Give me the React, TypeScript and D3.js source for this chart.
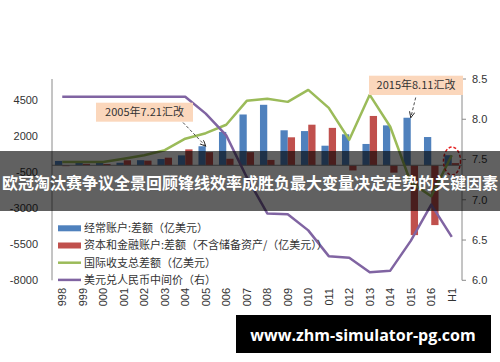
import { line, scaleBand, scaleLinear } from "d3";

const categories = [
  "1998", "1999", "2000", "2001", "2002", "2003", "2004", "2005", "2006", "2007",
  "2008", "2009", "2010", "2011", "2012", "2013", "2014", "2015", "2016", "2017H1"
];
// labels as they appear (cut off at the bottom edge of the original)
const tickLabels = [
  "998", "999", "000", "001", "002", "003", "004", "005", "006", "007",
  "008", "009", "010", "011", "012", "013", "014", "015", "016", "H1"
];
const currentAccount = [
  300, 200, 190, 174, 354, 431, 689, 1324, 2318, 3532,
  4206, 2433, 2378, 1361, 2154, 1482, 2774, 3306, 1964, 700
];
const capitalAccount = [
  -63, 100, 90, 348, 323, 527, 1107, 912, 453, 911,
  371, 1945, 2822, 2600, -360, 3430, -514, -4856, -4161, 150
];
const overallBalance = [
  230, 220, 230, 460, 700, 1050, 1850, 2230, 2820, 4480,
  4620, 4410, 5240, 3990, 1775, 4900, 2680, -1200, -2150, 700
];
const usdCny = [
  8.28, 8.28, 8.28, 8.28, 8.28, 8.28, 8.28, 8.07, 7.8, 7.28,
  6.83, 6.82, 6.62, 6.3, 6.28, 6.1, 6.12, 6.49, 6.94, 6.54
];
const leftTicks = [-8000, -5500, -3000, -500, 2000, 4500];
const rightTicks = [6.0, 6.5, 7.0, 7.5, 8.0, 8.5];
const legendLabels = [
  "经常账户:差额（亿美元）",
  "资本和金融账户:差额（不含储备资产/（亿美元））",
  "国际收支总差额（亿美元）",
  "美元兑人民币中间价（右）"
];
const title = "欧冠淘汰赛争议全景回顾锋线效率成胜负最大变量决定走势的关键因素";
const watermark = "www.zhm-simulator-pg.com";

const BLUE = "#4F81BD";
const RED = "#C0504D";
const GREEN = "#9BBB59";
const PURPLE = "#8064A2";
const AXIS = "#8a8a8a";
const TEXT = "#333";
const FONT = "'Liberation Sans', 'Noto Sans CJK SC', sans-serif";
const CJK = "'Noto Sans CJK SC', 'Liberation Sans', sans-serif";

export default function App() {
  const width = 500;
  const height = 362;
  const left = 52, right = 462, top = 79, bottom = 280.3;

  const x = scaleBand().domain(categories).range([left, right]).paddingInner(0.29).paddingOuter(0.145);
  const xs = scaleBand().domain(["ca", "ka"]).range([0, x.bandwidth()]);
  const yL = scaleLinear().domain([-8000, 6000]).range([bottom, top]);
  const yR = scaleLinear().domain([6, 8.5]).range([bottom, top]);
  const cx = (i: number) => (x(categories[i]) ?? 0) + x.bandwidth() / 2;

  const greenPath = line<number>().x((_, i) => cx(i)).y((d) => yL(d))(overallBalance) ?? "";
  const purplePath = line<number>().x((_, i) => cx(i)).y((d) => yR(d))(usdCny) ?? "";

  const bar = (v: number, i: number, key: "ca" | "ka", fill: string) => (
    <rect
      key={`${key}-${i}`}
      x={(x(categories[i]) ?? 0) + (xs(key) ?? 0)}
      y={Math.min(yL(v), yL(0))}
      width={xs.bandwidth()}
      height={Math.abs(yL(v) - yL(0))}
      fill={fill}
    />
  );

  const i2005 = categories.indexOf("2005");
  const i2015 = categories.indexOf("2015");
  const legendTop = 228.3;

  return (
    <svg width={width} height={height} style={{ position: "absolute", left: 0, top: 0, background: "#fff" }}>
      <defs>
        <marker id="arr" markerWidth="7" markerHeight="7" refX="6" refY="3" orient="auto" markerUnits="userSpaceOnUse">
          <path d="M0,0.3 L6,3 L0,5.7" fill="none" stroke="#222" strokeWidth="0.9" />
        </marker>
      </defs>

      {/* bars */}
      {currentAccount.map((v, i) => bar(v, i, "ca", BLUE))}
      {capitalAccount.map((v, i) => bar(v, i, "ka", RED))}

      {/* axes */}
      <line x1={left} x2={left} y1={top} y2={bottom} stroke={AXIS} />
      <line x1={left} x2={right} y1={yL(0)} y2={yL(0)} stroke={AXIS} />
      <line x1={right} x2={right} y1={top} y2={bottom} stroke={AXIS} />
      {rightTicks.map((t) => (
        <g key={`rt-${t}`}>
          <line x1={right} x2={right + 4} y1={yR(t)} y2={yR(t)} stroke={AXIS} />
          <text x={right + 10} y={yR(t)} dy="0.35em" fontSize={11} fill={TEXT} fontFamily={FONT}>
            {t.toFixed(1)}
          </text>
        </g>
      ))}
      {leftTicks.map((t) => (
        <text key={`lt-${t}`} x={38} y={yL(t)} dy="0.35em" textAnchor="end" fontSize={11} fill={TEXT} fontFamily={FONT}>
          {t}
        </text>
      ))}
      {tickLabels.map((t, i) => (
        <text
          key={`xt-${i}`}
          transform={`translate(${cx(i)},288) rotate(-90)`}
          dy="0.35em"
          textAnchor="end"
          fontSize={11}
          fill={TEXT}
          fontFamily={FONT}
        >
          {t}
        </text>
      ))}

      {/* lines */}
      <path d={greenPath} fill="none" stroke={GREEN} strokeWidth={2.5} strokeLinejoin="round" />
      <path d={purplePath} fill="none" stroke={PURPLE} strokeWidth={2.5} strokeLinejoin="round" />

      {/* legend */}
      {legendLabels.map((label, i) => {
        const ly = legendTop + i * 17.2;
        return (
          <g key={`lg-${i}`}>
            {i < 2 ? (
              <rect x={58} y={ly - 3} width={23} height={6} fill={i === 0 ? BLUE : RED} />
            ) : (
              <line x1={58} x2={81} y1={ly} y2={ly} stroke={i === 2 ? GREEN : PURPLE} strokeWidth={2.5} />
            )}
            <text x={84} y={ly} dy="0.35em" fontSize={11} fill={TEXT} fontFamily={CJK}>
              {label}
            </text>
          </g>
        );
      })}

      {/* annotations */}
      <rect x={96} y={102.7} width={97} height={19} fill="#FBD7BC" />
      <text x={144.5} y={112.2} dy="0.35em" textAnchor="middle" fontSize={11} fill={TEXT} fontFamily={CJK}>
        2005年7.21汇改
      </text>
      <line
        x1={183} y1={122.5} x2={cx(i2005)} y2={yL(currentAccount[i2005])}
        stroke="#222" strokeWidth={0.8} strokeDasharray="3,2" markerEnd="url(#arr)"
      />
      <rect x={369} y={75.7} width={94} height={19.3} fill="#FBD7BC" />
      <text x={416} y={85.3} dy="0.35em" textAnchor="middle" fontSize={11} fill={TEXT} fontFamily={CJK}>
        2015年8.11汇改
      </text>
      <line
        x1={415.7} y1={97.5} x2={cx(i2015)} y2={yL(currentAccount[i2015])}
        stroke="#222" strokeWidth={0.8} strokeDasharray="3,2" markerEnd="url(#arr)"
      />
      <ellipse cx={452} cy={161} rx={8.5} ry={14} fill="none" stroke="#E52020" strokeWidth={1.5} strokeDasharray="3,2" />

      {/* title banner */}
      <rect x={0} y={151} width={500} height={60} fill="#000" opacity={0.62} />
      <text x={250} y={189} textAnchor="middle" fontSize={16} fontWeight="bold" fill="#fff" fontFamily={CJK}>
        {title}
      </text>

      {/* watermark */}
      <rect x={236} y={315} width={255} height={38} fill="#000" />
      <text x={363} y={340.5} textAnchor="middle" fontSize={16} fontWeight="bold" fill="#fff" fontFamily="'Open Sans', sans-serif">
        {watermark}
      </text>
    </svg>
  );
}
